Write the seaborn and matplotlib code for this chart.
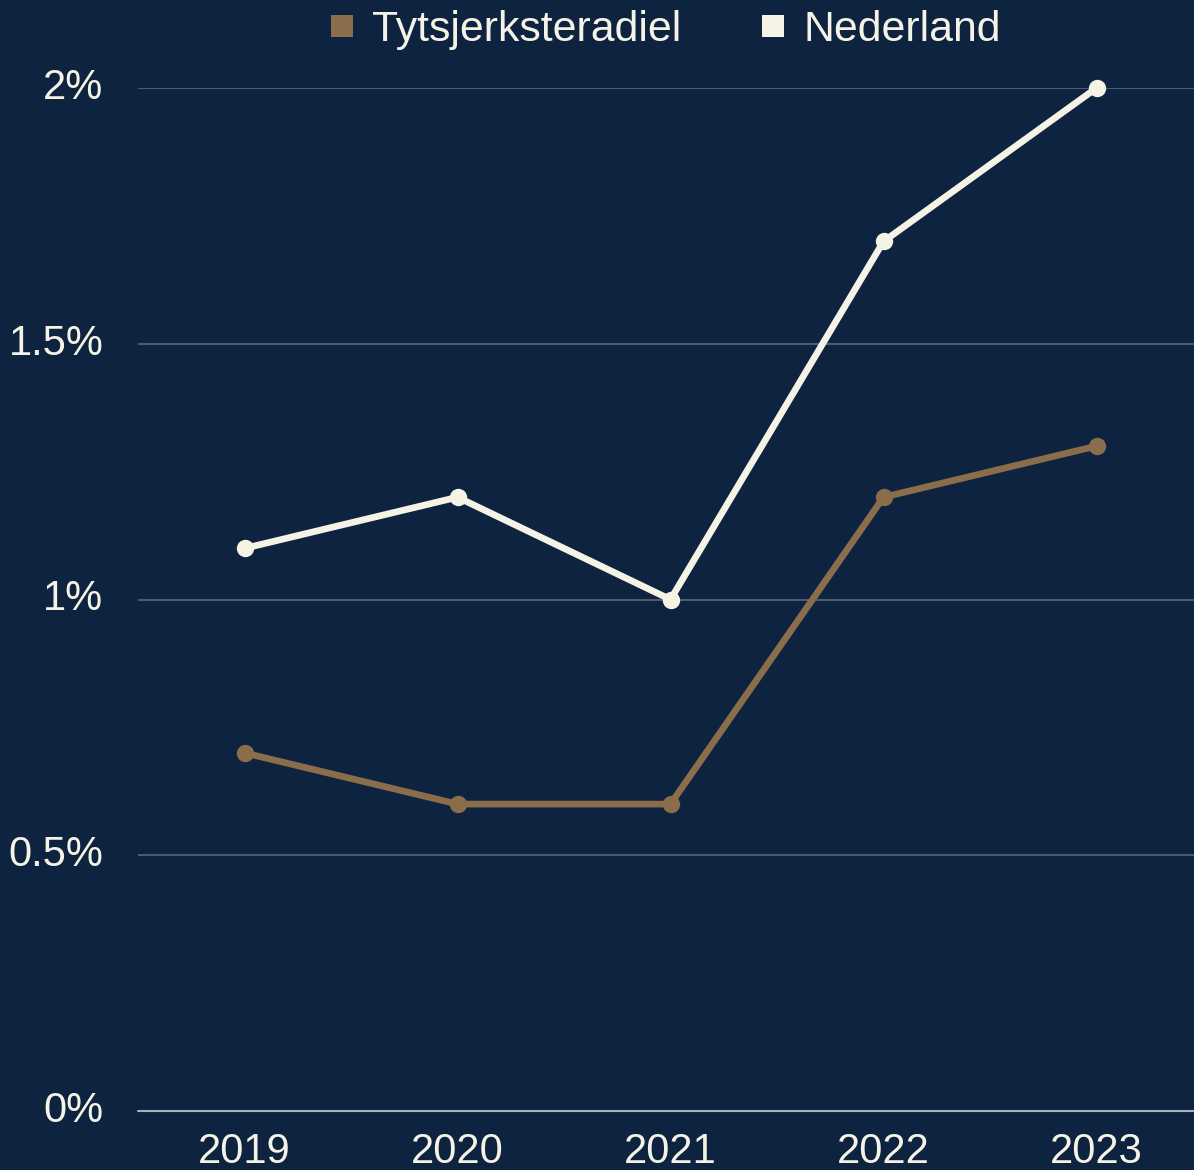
import pandas as pd
import matplotlib.pyplot as plt
import seaborn as sns
from matplotlib.lines import Line2D

# data
years = ['2019', '2020', '2021', '2022', '2023']
tytsjerksteradiel = [0.7, 0.6, 0.6, 1.2, 1.3]
nederland = [1.1, 1.2, 1.0, 1.7, 2.0]
series_names = ['Tytsjerksteradiel', 'Nederland']
y_ticks = [0, 0.5, 1, 1.5, 2]
y_labels = ['0%', '0.5%', '1%', '1.5%', '2%']

bg = '#0e2340'
brown = '#8a6d4b'
cream = '#f5f3e6'

df = pd.DataFrame({
    'jaar': years * 2,
    'waarde': tytsjerksteradiel + nederland,
    'regio': [series_names[0]] * 5 + [series_names[1]] * 5,
})

sns.set_theme(style='white')
plt.rcParams['font.family'] = ['Liberation Sans', 'DejaVu Sans']

fig = plt.figure(figsize=(11.94, 11.7), dpi=100, facecolor=bg)
# plot area runs a little past the right edge of the image, like the original
ax = fig.add_axes([138 / 1194, 59 / 1170, (1203 - 138) / 1194, (1111 - 88) / 1170])
ax.set_facecolor(bg)

palette = {series_names[0]: brown, series_names[1]: cream}
sns.lineplot(data=df, x='jaar', y='waarde', hue='regio', palette=palette,
             marker='o', markersize=12.5, markeredgewidth=0, linewidth=4.8,
             sort=False, legend=False, ax=ax, clip_on=False, zorder=3)

ax.set_xlim(-0.5, 4.5)
ax.set_ylim(0, 2)
ax.set_yticks(y_ticks)
ax.set_yticklabels(y_labels)
ax.set_xlabel('')
ax.set_ylabel('')

for y in y_ticks[1:]:
    ax.axhline(y, color='#4b5c72', linewidth=1.5, zorder=1)
ax.axhline(0, color='#a9afb8', linewidth=1.5, zorder=1, clip_on=False)

sns.despine(ax=ax, left=True, bottom=True)
ax.tick_params(axis='both', length=0, labelsize=30, colors=cream)
ax.tick_params(axis='y', pad=25)
ax.tick_params(axis='x', pad=15)
for lbl in ax.get_yticklabels():
    lbl.set_verticalalignment('center')

handles = [Line2D([], [], marker='s', linestyle='', markersize=16,
                  markerfacecolor=c, markeredgewidth=0) for c in (brown, cream)]
fig.legend(handles, series_names, loc='center', bbox_to_anchor=(663 / 1194, 1 - 30 / 1170),
           ncol=2, frameon=False, fontsize=30.8, labelcolor=cream,
           handletextpad=0.3, columnspacing=1.75, handlelength=0.8)

fig.savefig('out.png', dpi=100, facecolor=bg)
